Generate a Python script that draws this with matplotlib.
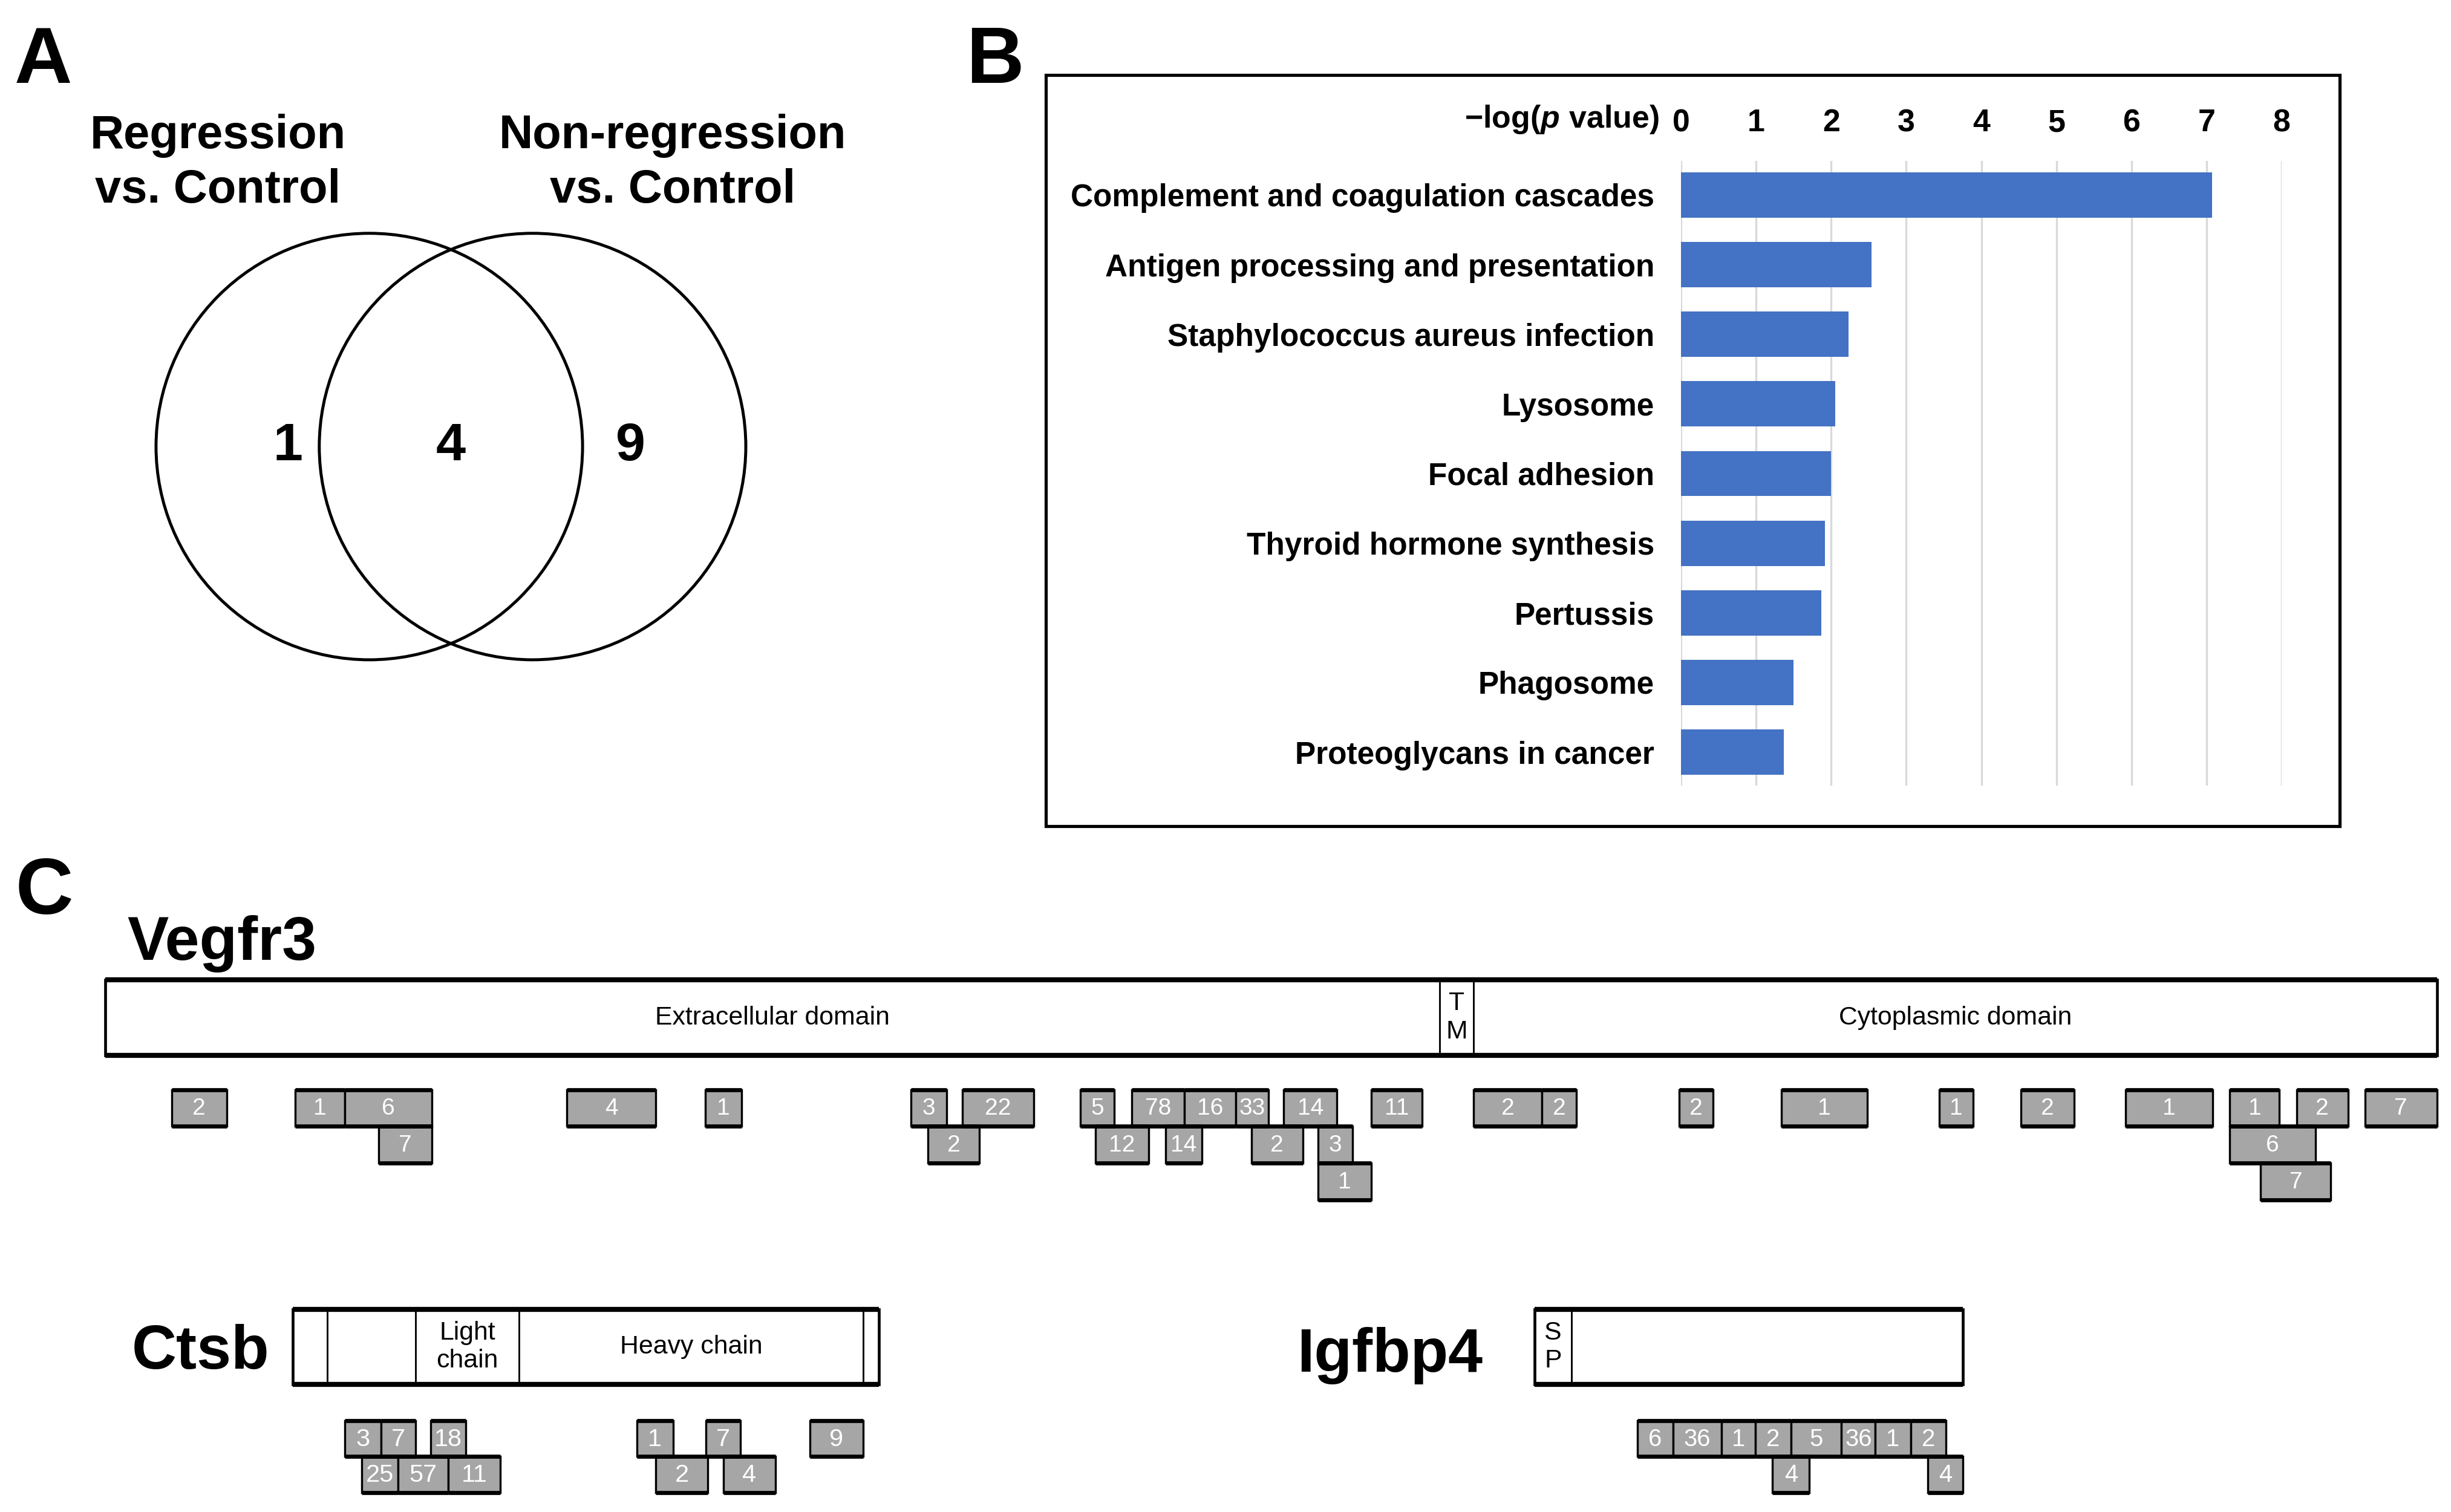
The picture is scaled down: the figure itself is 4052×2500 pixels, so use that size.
import matplotlib
matplotlib.use("Agg")
import matplotlib.pyplot as plt
from matplotlib import font_manager
from matplotlib.patches import Circle, Rectangle

# ---- Panel A: Venn counts
venn_titles = ["Regression\nvs. Control", "Non-regression\nvs. Control"]
venn_counts = [1, 4, 9]  # only left, shared, only right

# ---- Panel B: enriched KEGG pathways
pathways = ["Complement and coagulation cascades",
            "Antigen processing and presentation",
            "Staphylococcus aureus infection",
            "Lysosome",
            "Focal adhesion",
            "Thyroid hormone synthesis",
            "Pertussis",
            "Phagosome",
            "Proteoglycans in cancer"]
neg_log_p = [7.07, 2.54, 2.23, 2.05, 2.00, 1.92, 1.87, 1.50, 1.37]
p_ticks = [0, 1, 2, 3, 4, 5, 6, 7, 8]

# ---- Panel C: peptides mapped on protein sequence (residue numbers)
vegfr3_length = 1363
vegfr3_bounds = [0, 780, 800, 1363]
vegfr3_domains = ["Extracellular domain", "T\nM", "Cytoplasmic domain"]
vegfr3_start = [39, 111, 140, 270, 351, 471, 501, 570, 600, 631, 661, 689, 740,
                800, 840, 920, 980, 1072, 1120, 1181, 1242, 1281, 1321,
                160, 481, 579, 620, 670, 709, 1242,
                709, 1260]
vegfr3_end = [71, 140, 191, 322, 372, 492, 543, 590, 631, 661, 680, 720, 770,
              840, 860, 940, 1030, 1092, 1151, 1232, 1271, 1311, 1363,
              191, 511, 610, 641, 700, 729, 1292,
              740, 1301]
vegfr3_row = [0, 0, 0, 0, 0, 0, 0, 0, 0, 0, 0, 0, 0,
              0, 0, 0, 0, 0, 0, 0, 0, 0, 0,
              1, 1, 1, 1, 1, 1, 1,
              2, 2]
vegfr3_count = [2, 1, 6, 4, 1, 3, 22, 5, 78, 16, 33, 14, 11,
                2, 2, 2, 1, 1, 2, 1, 1, 2, 7,
                7, 2, 12, 14, 2, 3, 6,
                1, 7]

ctsb_length = 339
ctsb_bounds = [0, 20, 71, 131, 330, 339]
ctsb_domains = ["", "", "Light\nchain", "Heavy chain", ""]
ctsb_start = [30, 51, 80, 199, 239, 299, 40, 61, 90, 210, 249]
ctsb_end = [51, 71, 100, 220, 259, 330, 61, 90, 120, 240, 279]
ctsb_row = [0, 0, 0, 0, 0, 0, 1, 1, 1, 1, 1]
ctsb_count = [3, 7, 18, 1, 7, 9, 25, 57, 11, 2, 4]

igfbp4_length = 254
igfbp4_bounds = [0, 22, 254]
igfbp4_domains = ["S\nP", ""]
igfbp4_start = [61, 82, 111, 131, 152, 182, 202, 223, 141, 233]
igfbp4_end = [82, 111, 131, 152, 182, 202, 223, 244, 163, 254]
igfbp4_row = [0, 0, 0, 0, 0, 0, 0, 0, 1, 1]
igfbp4_count = [6, 36, 1, 2, 5, 36, 1, 2, 4, 4]

# ---- layout units: the page is W x H "units"
W = 1563.0
H = 2500.0 / (4052.0 / 1563.0)
PT = 72.0 * (4052.0 / W) / 100.0   # points per unit


def pt(u):
    return u * PT


plt.rcParams["font.family"] = ["Liberation Sans", "DejaVu Sans"]
plt.rcParams["mathtext.fontset"] = "custom"
plt.rcParams["mathtext.rm"] = "Liberation Sans:bold"
plt.rcParams["mathtext.it"] = "Liberation Sans:italic:bold"
plt.rcParams["mathtext.bf"] = "Liberation Sans:bold"

names = {f.name for f in font_manager.fontManager.ttflist}
narrow = "Liberation Sans Narrow" if "Liberation Sans Narrow" in names else "Liberation Sans"

fig = plt.figure(figsize=(40.52, 25.0), dpi=100)

# overlay for free drawing (venn, frames, labels)
ov = fig.add_axes([0, 0, 1, 1])
ov.set_xlim(0, W)
ov.set_ylim(H, 0)
ov.axis("off")

# panel letters
for letter, x, y in [("A", 9, 53), ("B", 616, 53), ("C", 10, 583)]:
    ov.text(x, y, letter, fontsize=pt(51), fontweight="bold", ha="left", va="baseline")

# ---- Panel A
ov.add_patch(Circle((235.5, 284.8), 136, fill=False, lw=pt(1.9), ec="black"))
ov.add_patch(Circle((339.6, 284.8), 136, fill=False, lw=pt(1.9), ec="black"))
ov.text(139, 104, venn_titles[0], fontsize=pt(30), fontweight="bold",
        ha="center", va="center", linespacing=1.3)
ov.text(429, 104, venn_titles[1], fontsize=pt(30), fontweight="bold",
        ha="center", va="center", linespacing=1.3)
for x, c in zip([183.5, 287.5, 402], venn_counts):
    ov.text(x, 285, str(c), fontsize=pt(34), fontweight="bold", ha="center", va="center")

# ---- Panel B
ov.add_patch(Rectangle((667, 48), 825, 479, fill=False, lw=pt(2.0), ec="black"))
axb = fig.add_axes([1072 / W, 1 - 501 / H, (1455 - 1072) / W, (501 - 102.6) / H])
ypos = list(range(len(pathways)))
axb.barh(ypos, neg_log_p, height=0.65, color="#4472C4", zorder=3)
axb.set_xlim(0, 8)
axb.set_ylim(8.48, -0.49)
axb.set_xticks(p_ticks)
axb.xaxis.tick_top()
axb.tick_params(axis="x", length=0, pad=pt(14.5), labelsize=pt(20))
for lab in axb.get_xticklabels():
    lab.set_fontweight("bold")
axb.set_yticks(ypos)
axb.set_yticklabels(pathways, fontweight="bold")
axb.tick_params(axis="y", length=0, pad=pt(17), labelsize=pt(19.8))
axb.grid(axis="x", color="#D9D9D9", lw=pt(1.3), zorder=0)
axb.set_axisbelow(True)
for s in axb.spines.values():
    s.set_visible(False)
ov.text(1058, 76, r"$\mathrm{-log(}p\mathrm{\ value)}$", fontsize=pt(20),
        ha="right", va="center")


# ---- Panel C
def draw_protein(name, name_xy, x0, x1, top, length, bounds, domains,
                 start, end, row, count, bar_h=48, gap=22, row_h=23.2, num_size=14):
    total = bar_h + gap + 3 * row_h
    ax = fig.add_axes([x0 / W, 1 - (top + total) / H, (x1 - x0) / W, total / H])
    ax.set_xlim(0, length)
    ax.set_ylim(total, 0)
    ax.axis("off")

    ov.text(name_xy[0], name_xy[1], name, fontsize=pt(39.5), fontweight="bold",
            ha="left", va="baseline")

    ax.add_patch(Rectangle((0, 0), length, bar_h, facecolor="white", edgecolor="black",
                           lw=pt(1.8), clip_on=False))
    ax.hlines([0, bar_h], 0, length, colors="black", lw=pt(3.2), clip_on=False)
    for b in bounds[1:-1]:
        ax.vlines(b, 0, bar_h, colors="black", lw=pt(1.1), clip_on=False)
    for lo, hi, dom in zip(bounds[:-1], bounds[1:], domains):
        if dom:
            ax.text((lo + hi) / 2, bar_h / 2, dom, fontsize=pt(16.5), family=narrow,
                    ha="center", va="center", linespacing=1.2)

    for s, e, r, c in zip(start, end, row, count):
        y = bar_h + gap + r * row_h
        ax.add_patch(Rectangle((s, y), e - s, row_h, facecolor="#A6A6A6",
                               edgecolor="black", lw=pt(1.3), clip_on=False))
        ax.hlines([y, y + row_h], s, e, colors="black", lw=pt(2.6), clip_on=False)
        ax.text((s + e) / 2, y + row_h / 2 + 0.5, str(c), color="white",
                fontsize=pt(num_size), family=narrow, ha="center", va="center")


draw_protein("Vegfr3", (81, 612), 67, 1554, 625, vegfr3_length, vegfr3_bounds,
             vegfr3_domains, vegfr3_start, vegfr3_end, vegfr3_row, vegfr3_count,
             bar_h=48, gap=22, row_h=23.4, num_size=15)
draw_protein("Ctsb", (84, 873), 186.6, 560.5, 835, ctsb_length, ctsb_bounds,
             ctsb_domains, ctsb_start, ctsb_end, ctsb_row, ctsb_count,
             bar_h=48, gap=23, row_h=23, num_size=16)
draw_protein("Igfbp4", (827, 875), 978.6, 1251.8, 835, igfbp4_length, igfbp4_bounds,
             igfbp4_domains, igfbp4_start, igfbp4_end, igfbp4_row, igfbp4_count,
             bar_h=48, gap=23, row_h=23, num_size=15.5)

fig.savefig("out.png", dpi=100)
